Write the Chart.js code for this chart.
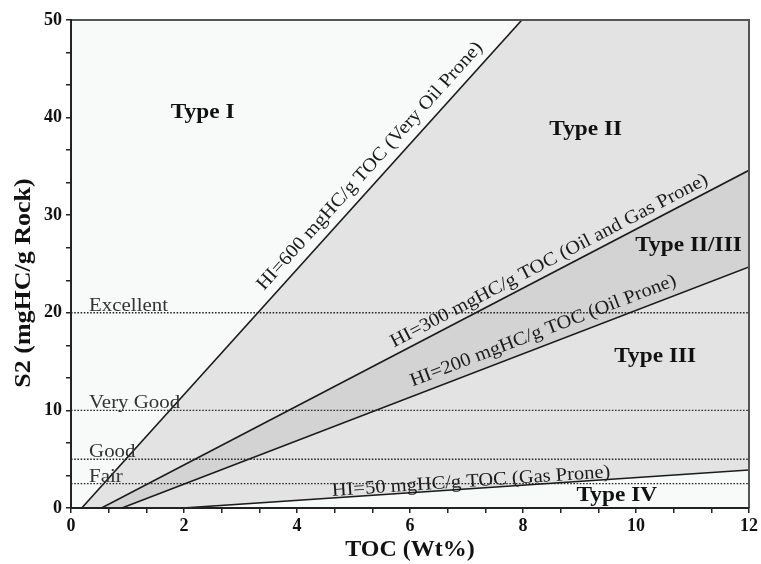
<!DOCTYPE html>
<html>
<head>
<meta charset="utf-8">
<script src="https://cdn.jsdelivr.net/npm/chart.js@4.4.1/dist/chart.umd.min.js"></script>
<style>
  html, body { margin: 0; padding: 0; background: #fff; }
  #wrap { width: 761px; height: 564px; }
</style>
</head>
<body>
<div id="wrap"><canvas id="mainChart" width="761" height="564"></canvas></div>
<script>
// HI lines: TOC where S2 = 0, then the point where the line leaves the plot
var hiNames = [
  "HI=600 mgHC/g TOC (Very Oil Prone)",
  "HI=300 mgHC/g TOC (Oil and Gas Prone)",
  "HI=200 mgHC/g TOC (Oil Prone)",
  "HI=50 mgHC/g TOC (Gas Prone)"
];
var hiStartToc = [0.19, 0.54, 0.9, 1.98];
var hiEndToc = [7.98, 12, 12, 12];
var hiEndS2 = [50, 34.6, 24.7, 3.9];

// source rock quality cut-offs (S2)
var qualityNames = ["Fair", "Good", "Very Good", "Excellent"];
var qualityS2 = [2.5, 5, 10, 20];

var kerogenNames = ["Type I", "Type II", "Type II/III", "Type III", "Type IV"];
var kerogenToc = [2.33, 9.11, 10.93, 10.34, 9.66];
var kerogenS2 = [40.5, 38.8, 26.9, 15.5, 1.3];

var xTickLabels = [0, 2, 4, 6, 8, 10, 12];
var yTickLabels = [0, 10, 20, 30, 40, 50];

var xMax = xTickLabels[xTickLabels.length - 1];
var yMax = yTickLabels[yTickLabels.length - 1];

var serif = "'Liberation Serif', 'Times New Roman', serif";
var lineColor = "#1b1b1b";

// label placement along each HI line (fraction of its length, px off the line)
var hiLabelAlong = [0.68, 0.70, 0.68, 0.51];
var hiLabelGap = [15, 12, 14, 7];

function pt(x, y) {
  return { x: x, y: y };
}

var datasets = [];

// everything right of HI=600
datasets.push({
  data: [pt(hiStartToc[0], 0), pt(hiEndToc[0], hiEndS2[0]), pt(xMax, yMax), pt(xMax, 0)],
  backgroundColor: "#e3e3e3",
  borderWidth: 0,
  fill: "shape",
  order: 10
});
// Type II/III band between HI=300 and HI=200
datasets.push({
  data: [pt(hiStartToc[1], 0), pt(hiEndToc[1], hiEndS2[1]), pt(hiEndToc[2], hiEndS2[2]), pt(hiStartToc[2], 0)],
  backgroundColor: "#d3d3d3",
  borderWidth: 0,
  fill: "shape",
  order: 9
});
// Type IV, under HI=50
datasets.push({
  data: [pt(hiStartToc[3], 0), pt(hiEndToc[3], hiEndS2[3]), pt(xMax, 0)],
  backgroundColor: "#f8f9f9",
  borderWidth: 0,
  fill: "shape",
  order: 8
});

qualityS2.forEach(function (s2) {
  datasets.push({
    data: [pt(0, s2), pt(xMax, s2)],
    borderColor: "#2a2a2a",
    borderWidth: 1.4,
    borderDash: [1.6, 1.6],
    fill: false,
    order: 2
  });
});

hiNames.forEach(function (name, i) {
  datasets.push({
    label: name,
    data: [pt(hiStartToc[i], 0), pt(hiEndToc[i], hiEndS2[i])],
    borderColor: lineColor,
    borderWidth: 1.6,
    fill: false,
    order: 1
  });
});

// the original figure's lettering is a little wider than the font
function wideText(ctx, text, x, y, angle, sx) {
  ctx.save();
  ctx.translate(x, y);
  ctx.rotate(angle);
  ctx.scale(sx, 1);
  ctx.fillText(text, 0, 0);
  ctx.restore();
}

var plotBackground = {
  id: "plotBackground",
  beforeDraw: function (chart) {
    var a = chart.chartArea;
    var ctx = chart.ctx;
    ctx.save();
    ctx.fillStyle = "#f8f9f9";
    ctx.fillRect(a.left, a.top, a.right - a.left, a.bottom - a.top);
    ctx.restore();
  }
};

var annotations = {
  id: "annotations",
  afterDatasetsDraw: function (chart) {
    var ctx = chart.ctx;
    var a = chart.chartArea;
    var xs = chart.scales.x;
    var ys = chart.scales.y;
    ctx.save();

    // frame top / right
    ctx.strokeStyle = "#555";
    ctx.lineWidth = 2;
    ctx.beginPath();
    ctx.moveTo(a.left, a.top);
    ctx.lineTo(a.right, a.top);
    ctx.lineTo(a.right, a.bottom);
    ctx.stroke();

    // quality words over the dotted lines
    ctx.fillStyle = "#333";
    ctx.font = "19px " + serif;
    ctx.textAlign = "left";
    ctx.textBaseline = "alphabetic";
    qualityNames.forEach(function (q, i) {
      wideText(ctx, q, xs.getPixelForValue(0.32), ys.getPixelForValue(qualityS2[i]) - 2, 0, 1.1);
    });

    // HI labels rotated along their lines
    ctx.fillStyle = "#1b1b1b";
    ctx.font = "19px " + serif;
    ctx.textAlign = "center";
    ctx.textBaseline = "middle";
    hiNames.forEach(function (name, i) {
      var x0 = xs.getPixelForValue(hiStartToc[i]);
      var y0 = ys.getPixelForValue(0);
      var x1 = xs.getPixelForValue(hiEndToc[i]);
      var y1 = ys.getPixelForValue(hiEndS2[i]);
      var ang = Math.atan2(y1 - y0, x1 - x0);
      var f = hiLabelAlong[i];
      var cx = x0 + (x1 - x0) * f + Math.sin(ang) * hiLabelGap[i];
      var cy = y0 + (y1 - y0) * f - Math.cos(ang) * hiLabelGap[i];
      wideText(ctx, name, cx, cy, ang, 1.08);
    });

    // kerogen types
    ctx.fillStyle = "#111";
    ctx.font = "bold 22px " + serif;
    kerogenNames.forEach(function (k, i) {
      wideText(ctx, k, xs.getPixelForValue(kerogenToc[i]), ys.getPixelForValue(kerogenS2[i]), 0, 1.06);
    });

    // y axis title, sits a bit below the middle of the axis in the original
    ctx.font = "bold 23px " + serif;
    wideText(ctx, "S2 (mgHC/g Rock)", 24, 283, -Math.PI / 2, 1.13);
    ctx.restore();
  }
};

function minorTicks(labels, parts) {
  return function (scale) {
    var t = [];
    for (var i = 0; i < labels.length - 1; i++) {
      var step = (labels[i + 1] - labels[i]) / parts;
      for (var j = 0; j < parts; j++) t.push({ value: labels[i] + step * j });
    }
    t.push({ value: labels[labels.length - 1] });
    scale.ticks = t;
  };
}

function majorOnly(labels) {
  return function (value) {
    for (var i = 0; i < labels.length; i++) {
      if (Math.abs(labels[i] - value) < 1e-6) return String(labels[i]);
    }
    return "";
  };
}

var tickFont = { family: serif, size: 18, weight: "bold" };
var titleFont = { family: serif, size: 24, weight: "bold" };

var ctx = document.getElementById("mainChart").getContext("2d");
var chart = new Chart(ctx, {
  type: "scatter",
  data: { datasets: datasets },
  options: {
    responsive: false,
    animation: false,
    showLine: true,
    elements: { point: { radius: 0 }, line: { tension: 0 } },
    layout: { padding: { left: 0, top: 20, right: 11, bottom: 0 } },
    plugins: { legend: { display: false }, tooltip: { enabled: false } },
    scales: {
      x: {
        type: "linear",
        min: 0,
        max: xMax,
        afterFit: function (s) { s.height = 56; },
        afterBuildTicks: minorTicks(xTickLabels, 3),
        ticks: { autoSkip: false, maxRotation: 0, padding: 3, color: "#111", font: tickFont, callback: majorOnly(xTickLabels) },
        grid: { drawOnChartArea: false, tickLength: 5, color: "#222", lineWidth: 1.5 },
        border: { color: "#222", width: 2, z: 1 },
        title: { display: true, text: "TOC (Wt%)", color: "#111", font: titleFont, padding: { top: 0, bottom: 0 } }
      },
      y: {
        type: "linear",
        min: 0,
        max: yMax,
        afterFit: function (s) { s.width = 71; },
        afterBuildTicks: minorTicks(yTickLabels, 3),
        ticks: { autoSkip: false, padding: 4, color: "#111", font: tickFont, callback: majorOnly(yTickLabels) },
        grid: { drawOnChartArea: false, tickLength: 5, color: "#222", lineWidth: 1.5 },
        border: { color: "#222", width: 2, z: 1 },
        title: { display: false }
      }
    }
  },
  plugins: [plotBackground, annotations]
});
</script>
</body>
</html>
